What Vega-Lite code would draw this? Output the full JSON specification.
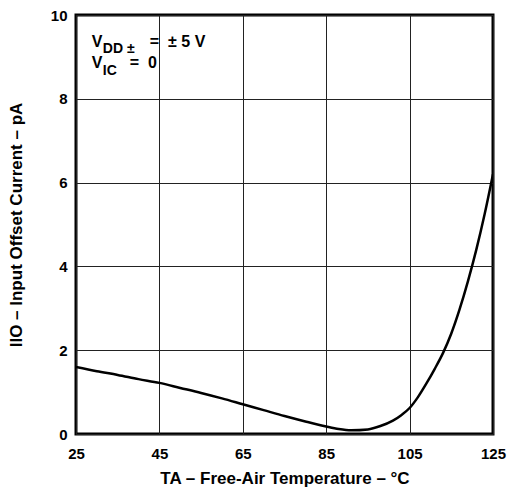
{
  "$schema": "https://vega.github.io/schema/vega-lite/v6.json",
  "width": 417,
  "height": 419,
  "autosize": {"type": "none"},
  "padding": {"left": 76, "top": 15, "right": 15, "bottom": 55},
  "background": "white",
  "config": {
    "view": {"stroke": "black", "strokeWidth": 3},
    "font": "Liberation Sans",
    "axis": {
      "grid": true,
      "gridColor": "#222222",
      "gridWidth": 1,
      "gridOpacity": 1,
      "domain": false,
      "ticks": false,
      "labelFlush": false,
      "labelBound": false,
      "labelOverlap": false,
      "labelFont": "Liberation Sans",
      "labelFontSize": 15,
      "labelFontWeight": "bold",
      "labelColor": "black",
      "titleFont": "Liberation Sans",
      "titleFontSize": 17,
      "titleFontWeight": "bold",
      "titleColor": "black"
    }
  },
  "data": {
    "values": [
      {"T": 25, "I": 1.6}, {"T": 30, "I": 1.5}, {"T": 35, "I": 1.41}, {"T": 40, "I": 1.31},
      {"T": 45, "I": 1.22}, {"T": 50, "I": 1.1}, {"T": 55, "I": 0.98}, {"T": 60, "I": 0.85},
      {"T": 65, "I": 0.71}, {"T": 70, "I": 0.57}, {"T": 75, "I": 0.43}, {"T": 80, "I": 0.3},
      {"T": 85, "I": 0.18}, {"T": 88, "I": 0.12}, {"T": 91, "I": 0.09}, {"T": 95, "I": 0.11},
      {"T": 98, "I": 0.19}, {"T": 101, "I": 0.32}, {"T": 103, "I": 0.45}, {"T": 105, "I": 0.62},
      {"T": 107, "I": 0.88}, {"T": 109, "I": 1.2}, {"T": 111, "I": 1.55}, {"T": 113, "I": 1.93},
      {"T": 115, "I": 2.4}, {"T": 117, "I": 2.98}, {"T": 119, "I": 3.65}, {"T": 121, "I": 4.4},
      {"T": 123, "I": 5.25}, {"T": 125, "I": 6.2}
    ]
  },
  "layer": [
    {
      "mark": {"type": "line", "color": "black", "strokeWidth": 2.5, "interpolate": "monotone", "clip": true},
      "encoding": {
        "x": {
          "field": "T", "type": "quantitative",
          "scale": {"domain": [25, 125], "nice": false, "zero": false},
          "axis": {"values": [25, 45, 65, 85, 105, 125], "labelPadding": 12, "title": "TA – Free-Air Temperature – °C", "titlePadding": 9}
        },
        "y": {
          "field": "I", "type": "quantitative",
          "scale": {"domain": [0, 10], "nice": false},
          "axis": {"values": [0, 2, 4, 6, 8, 10], "labelPadding": 9, "title": "IIO – Input Offset Current – pA", "titlePadding": 25}
        }
      }
    },
    {
      "data": {"values": [{}]},
      "mark": {"type": "text", "align": "left", "baseline": "alphabetic", "fontSize": 16, "fontWeight": "bold", "color": "black"},
      "encoding": {"x": {"datum": 28.8}, "y": {"datum": 9.24}, "text": {"value": "V"}}
    },
    {
      "data": {"values": [{}]},
      "mark": {"type": "text", "align": "left", "baseline": "alphabetic", "fontSize": 14, "fontWeight": "bold", "color": "black", "dx": 11, "dy": 6},
      "encoding": {"x": {"datum": 28.8}, "y": {"datum": 9.24}, "text": {"value": "DD ±"}}
    },
    {
      "data": {"values": [{}]},
      "mark": {"type": "text", "align": "left", "baseline": "alphabetic", "fontSize": 16, "fontWeight": "bold", "color": "black", "dx": 58},
      "encoding": {"x": {"datum": 28.8}, "y": {"datum": 9.24}, "text": {"value": "=\u00a0\u00a0±\u00a05\u00a0V"}}
    },
    {
      "data": {"values": [{}]},
      "mark": {"type": "text", "align": "left", "baseline": "alphabetic", "fontSize": 16, "fontWeight": "bold", "color": "black"},
      "encoding": {"x": {"datum": 28.8}, "y": {"datum": 8.735}, "text": {"value": "V"}}
    },
    {
      "data": {"values": [{}]},
      "mark": {"type": "text", "align": "left", "baseline": "alphabetic", "fontSize": 14, "fontWeight": "bold", "color": "black", "dx": 11, "dy": 7},
      "encoding": {"x": {"datum": 28.8}, "y": {"datum": 8.735}, "text": {"value": "IC"}}
    },
    {
      "data": {"values": [{}]},
      "mark": {"type": "text", "align": "left", "baseline": "alphabetic", "fontSize": 16, "fontWeight": "bold", "color": "black", "dx": 38},
      "encoding": {"x": {"datum": 28.8}, "y": {"datum": 8.735}, "text": {"value": "=\u00a0\u00a00"}}
    }
  ]
}
